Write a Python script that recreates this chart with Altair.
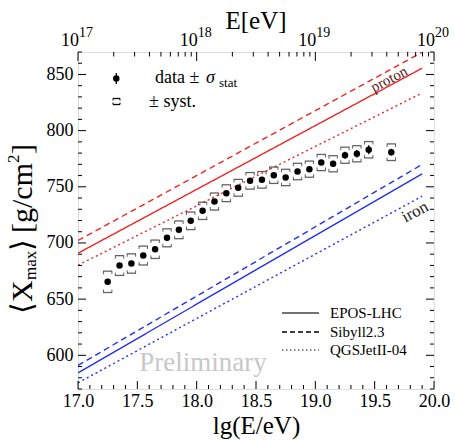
import altair as alt
import pandas as pd
import numpy as np

W, H = 356, 337
FONT = "Liberation Serif"

# ---------------- data ----------------
lgE = [17.25, 17.35, 17.45, 17.55, 17.65, 17.75, 17.85, 17.95, 18.05, 18.15,
       18.25, 18.35, 18.45, 18.55, 18.65, 18.75, 18.85, 18.95, 19.05, 19.15,
       19.25, 19.35, 19.45, 19.64]
xmax = [665.4, 679.9, 681.7, 688.8, 694.4, 704.6, 711.7, 719.7, 728.6, 736.9,
        744.3, 749.1, 755.3, 756.2, 760.3, 758.3, 763.6, 765.7, 771.6, 770.5,
        778.1, 779.4, 783.0, 780.8]
stat = [2.5, 1.5, 1.2, 1.0, 0.9, 0.9, 0.9, 0.9, 0.9, 1.0,
        1.0, 1.1, 1.2, 1.3, 1.4, 1.6, 1.8, 2.0, 2.3, 2.6,
        3.0, 3.4, 4.0, 3.0]
syst = [9.5, 8.8, 8.6, 8.4, 8.2, 8.0, 7.9, 7.8, 7.7, 7.6,
        7.5, 7.5, 7.4, 7.4, 7.3, 7.3, 7.3, 7.2, 7.2, 7.2,
        7.2, 7.2, 7.3, 7.4]

models = ["EPOS-LHC", "Sibyll2.3", "QGSJetII-04"]
line_lgE = [17.0, 19.9]
proton_start = [690.9, 702.2, 680.2]
proton_end = [855.6, 869.8, 833.5]
iron_start = [584.4, 591.0, 575.5]
iron_end = [761.6, 769.9, 741.6]

x_major = [17.0, 17.5, 18.0, 18.5, 19.0, 19.5, 20.0]
y_major = [600, 650, 700, 750, 800, 850]
top_exp = ["17", "18", "19", "20"]
top_pos = [17, 18, 19, 20]

# ---------------- tables ----------------
pts = pd.DataFrame({"lgE": lgE, "xmax": xmax, "stat": stat, "syst": syst})
pts["slo"] = pts.xmax - pts.stat
pts["shi"] = pts.xmax + pts.stat
pts["ylo"] = pts.xmax - pts.syst
pts["yhi"] = pts.xmax + pts.syst

rows = []
for i, m in enumerate(models):
    for prim, s, e in (("proton", proton_start, proton_end), ("iron", iron_start, iron_end)):
        rows.append({"model": m, "prim": prim, "key": m + prim, "lgE": line_lgE[0], "X": s[i]})
        rows.append({"model": m, "prim": prim, "key": m + prim, "lgE": line_lgE[1], "X": e[i]})
lines = pd.DataFrame(rows)

xs = alt.Scale(domain=[17, 20], nice=False, zero=False)
ys = alt.Scale(domain=[570, 870], nice=False, zero=False)
dash_scale = alt.Scale(domain=models, range=[[1, 0], [6, 4], [2, 3]])

bottom_axis = alt.Axis(values=x_major, format=".1f", labelFont=FONT, labelFontSize=18,
                       labelColor="black", labelFlush=False, ticks=False, tickSize=0,
                       domain=False, grid=False, labelPadding=3,
                       title="lg(E/eV)", titleFont=FONT, titleFontSize=25,
                       titleFontWeight="normal", titleColor="black", titlePadding=3)
left_axis = alt.Axis(values=y_major, labelFont=FONT, labelFontSize=18, labelColor="black",
                     ticks=False, tickSize=0, domain=False, grid=False, labelPadding=5,
                     title=None)

model_lines = alt.Chart(lines).mark_line(strokeWidth=1.4, clip=True).encode(
    x=alt.X("lgE:Q", scale=xs, axis=bottom_axis),
    y=alt.Y("X:Q", scale=ys, axis=left_axis),
    color=alt.Color("prim:N", scale=alt.Scale(domain=["proton", "iron"],
                                              range=["#f02424", "#2030f0"]), legend=None),
    strokeDash=alt.StrokeDash("model:N", scale=dash_scale, legend=None),
    detail="key:N",
)

base = alt.Chart(pts)
enc_x = alt.X("lgE:Q", scale=xs, axis=None)
syst_hi = base.mark_tick(orient="horizontal", size=9, thickness=1.3, color="#222").encode(
    x=enc_x, y=alt.Y("yhi:Q", scale=ys, axis=None))
syst_lo = base.mark_tick(orient="horizontal", size=9, thickness=1.3, color="#222").encode(
    x=enc_x, y=alt.Y("ylo:Q", scale=ys, axis=None))
ends = []
for dx in (-4.2, 4.2):
    ends.append(base.mark_tick(orient="vertical", size=3, thickness=1, color="#222",
                               xOffset=dx, yOffset=1.5).encode(
        x=enc_x, y=alt.Y("yhi:Q", scale=ys, axis=None)))
    ends.append(base.mark_tick(orient="vertical", size=3, thickness=1, color="#222",
                               xOffset=dx, yOffset=-1.5).encode(
        x=enc_x, y=alt.Y("ylo:Q", scale=ys, axis=None)))
stat_bar = base.mark_rule(color="black", strokeWidth=1.3).encode(
    x=enc_x, y=alt.Y("slo:Q", scale=ys, axis=None), y2="shi:Q")
dots = base.mark_circle(size=42, color="black", opacity=1).encode(
    x=enc_x, y=alt.Y("xmax:Q", scale=ys, axis=None))

# ---------------- inside ticks ----------------
x_minor = [round(v, 1) for v in np.arange(17.1, 20.0, 0.1) if round(v * 10) % 5 != 0]
y_minor = [v for v in range(570, 871, 10) if v % 50 != 0]
top_minor = [n + np.log10(k) for n in (17, 18, 19) for k in range(2, 10)]

def xticks(vals, y0, y1):
    return alt.Chart(pd.DataFrame({"v": vals})).mark_rule(color="black", strokeWidth=1).encode(
        x=alt.X("v:Q", scale=xs, axis=None), y=alt.value(y0), y2=alt.value(y1))

def yticks(vals, x0, x1):
    return alt.Chart(pd.DataFrame({"v": vals})).mark_rule(color="black", strokeWidth=1).encode(
        y=alt.Y("v:Q", scale=ys, axis=None), x=alt.value(x0), x2=alt.value(x1))

ticks = [
    xticks(x_major, H, H - 8), xticks(x_minor, H, H - 4),
    xticks(top_pos, 0, 9), xticks(top_minor, 0, 4.5),
    yticks(y_major, 0, 8), yticks(y_minor, 0, 4),
    yticks(y_major, W, W - 8), yticks(y_minor, W, W - 4),
]

# ---------------- top axis labels ----------------
topdf = pd.DataFrame({"p": top_pos, "e": top_exp, "b": ["10"] * 4})
top_base = alt.Chart(topdf).mark_text(font=FONT, fontSize=18, align="right",
                                      baseline="alphabetic", color="black", dx=1).encode(
    x=alt.X("p:Q", scale=xs, axis=None), y=alt.value(-6.5), text="b:N")
top_exp_t = alt.Chart(topdf).mark_text(font=FONT, fontSize=14, align="left",
                                       baseline="alphabetic", color="black", dx=1).encode(
    x=alt.X("p:Q", scale=xs, axis=None), y=alt.value(-15), text="e:N")

def label(txt, x, y, size, align="left", baseline="middle", color="black", angle=0,
          style="normal"):
    return alt.Chart(pd.DataFrame({"t": [txt]})).mark_text(
        font=FONT, fontSize=size, align=align, baseline=baseline, color=color,
        angle=angle, fontStyle=style).encode(x=alt.value(x), y=alt.value(y), text="t:N")

TX = -46
texts = [
    label("E[eV]", W / 2, -31, 25, align="center"),
    # y title, rotated, composed from pieces
    label("\u27e8", TX, 262, 30, angle=270, baseline="alphabetic"),
    label("X", TX, 250, 30, angle=270, baseline="alphabetic"),
    label("max", TX + 4, 228, 17, angle=270, baseline="alphabetic"),
    label("\u27e9", TX, 199, 30, angle=270, baseline="alphabetic"),
    label("[g/cm", TX, 181, 30, angle=270, baseline="alphabetic"),
    label("2", TX - 13, 111, 17, angle=270, baseline="alphabetic"),
    label("]", TX, 102, 30, angle=270, baseline="alphabetic"),
    # legend 1
    label("data \u00b1 ", 77, 26, 18),
    label("\u03c3", 128, 26, 18, style="italic"),
    label("stat", 141, 31, 13),
    label("\u00b1  syst.", 71, 50, 18),
    # legend 2
    label("EPOS-LHC", 252, 261, 15),
    label("Sibyll2.3", 252, 280, 15),
    label("QGSJetII-04", 252, 298, 15),
    label("Preliminary", 125, 311, 27, align="center", color="#c8c8c8"),
    label("proton", 311, 27, 15, align="center", color="#5a1818", angle=332),
    label("iron", 337, 160, 17, align="center", color="#202020", angle=332),
]

def seg(x0, x1, y0, y1, color="black", dash=None, width=1.3):
    kw = {"color": color, "strokeWidth": width}
    if dash:
        kw["strokeDash"] = dash
    return alt.Chart(pd.DataFrame({"a": [0]})).mark_rule(**kw).encode(
        x=alt.value(x0), x2=alt.value(x1), y=alt.value(y0), y2=alt.value(y1))

legend_marks = [
    seg(204, 241, 261, 261, color="#444"),
    seg(204, 241, 280, 280, color="black", dash=[5, 3]),
    seg(204, 241, 298, 298, color="#666", dash=[1.5, 2.5]),
    # data symbol
    seg(38.3, 38.3, 21, 32, width=1.3),
    alt.Chart(pd.DataFrame({"a": [0]})).mark_circle(size=42, color="black", opacity=1).encode(
        x=alt.value(38.3), y=alt.value(26.5)),
    # bracket symbol
    seg(35, 42, 46.5, 46.5), seg(35, 42, 52.5, 52.5),
    seg(35, 35, 46.5, 48.5, width=1), seg(42, 42, 46.5, 48.5, width=1),
    seg(35, 35, 50.5, 52.5, width=1), seg(42, 42, 50.5, 52.5, width=1),
]

chart = alt.layer(
    model_lines, syst_hi, syst_lo, *ends, stat_bar, dots, *ticks,
    top_base, top_exp_t, *texts, *legend_marks
).resolve_axis(x="independent", y="independent").properties(
    width=W, height=H,
    autosize=alt.AutoSizeParams(type="none"),
    padding={"left": 78, "top": 52, "right": 21, "bottom": 51},
).configure_view(stroke="black", strokeWidth=1.5).configure(background="white")

chart.save("out.html", embed_options={"renderer": "svg", "actions": False})
